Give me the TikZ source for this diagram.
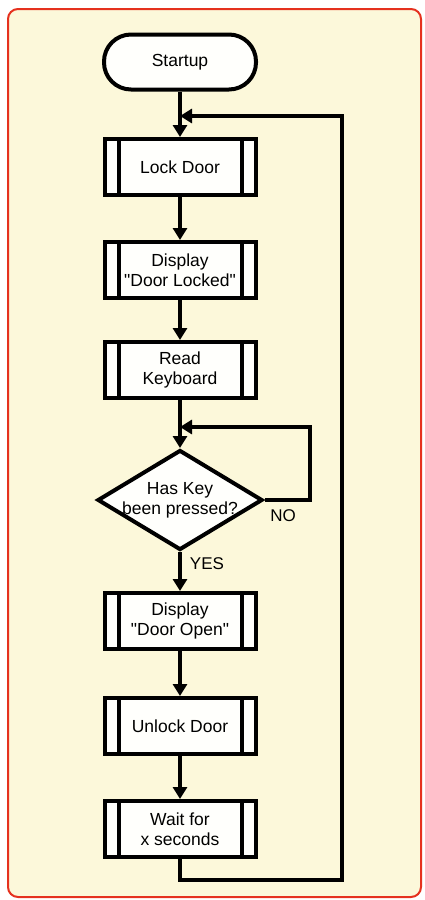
\documentclass[tikz,border=0pt]{standalone}
\usepackage{fontspec}
\setmainfont{Liberation Sans}
\usetikzlibrary{arrows.meta,shapes.geometric}
\definecolor{paper}{HTML}{FCF8DA}
\definecolor{frame}{HTML}{E5311E}
\definecolor{boxfill}{HTML}{FFFFFC}
\tikzset{
  line/.style={line width=4pt, -{Triangle[width=14pt,length=12pt]}},
  sub/.style={draw, line width=4pt, fill=boxfill, minimum width=151pt, minimum height=56pt, align=center, inner sep=2pt},
  term/.style={draw, line width=4pt, fill=boxfill, rounded corners=27pt, minimum width=152pt, minimum height=55pt},
  dec/.style={draw, diamond, aspect=1.65, line width=4pt, fill=boxfill, minimum width=165pt, minimum height=100pt, inner sep=-4pt, align=center},
  lab/.style={font=\fontsize{17}{20}\selectfont}
}
\newcommand{\qq}[1]{\textquotedbl#1\textquotedbl}
\begin{document}
\begin{tikzpicture}[x=1pt, y=-1pt, every node/.style={font=\fontsize{17.5}{20}\selectfont}]
  % 1. 外框
  \useasboundingbox (0,0) rectangle (424,900);
  \draw[frame, fill=paper, line width=2pt, rounded corners=10pt] (8,9) rectangle (421,897);

  % 2. 流程框
  \node[term] (start) at (180,62) {Startup};
  \node[sub] (lock) at (180,167) {Lock Door};
  \node[sub] (locked) at (180,270) {Display\\\qq{Door Locked}};
  \node[sub] (keyb) at (180,370) {Read\\Keyboard};
  \node[dec] (q) at (180,500) {Has Key\\been pressed?};
  \node[sub] (open) at (180,621) {Display\\\qq{Door Open}};
  \node[sub] (unlock) at (180,726) {Unlock Door};
  \node[sub] (wait) at (180,829) {Wait for\\x seconds};

  % 子程序框的竖线
  \foreach \n in {lock,locked,keyb,open,unlock,wait} {
    \draw[line width=4pt] ([xshift=16pt]\n.north west) -- ([xshift=16pt]\n.south west);
    \draw[line width=4pt] ([xshift=-16pt]\n.north east) -- ([xshift=-16pt]\n.south east);
  }

  % 3. 汇合点
  \coordinate (j1) at (180,116);
  \coordinate (j2) at (180,427);
  \coordinate (n1) at (310,427);
  \coordinate (r1) at (342,880);

  % 4. 连线
  \draw[line] (start) -- (lock);
  \draw[line] (lock) -- (locked);
  \draw[line] (locked) -- (keyb);
  \draw[line] (keyb) -- (q);
  \draw[line] (q) -- (open);
  \draw[line] (open) -- (unlock);
  \draw[line] (unlock) -- (wait);
  \draw[line] (q.east) -| (n1) -- (j2);
  \draw[line] (wait.south) |- (r1) |- (j1);

  % 5. 标号
  \node[lab] (no) at (283,516) {NO};
  \node[lab] (yes) at (207,564) {YES};
\end{tikzpicture}
\end{document}
